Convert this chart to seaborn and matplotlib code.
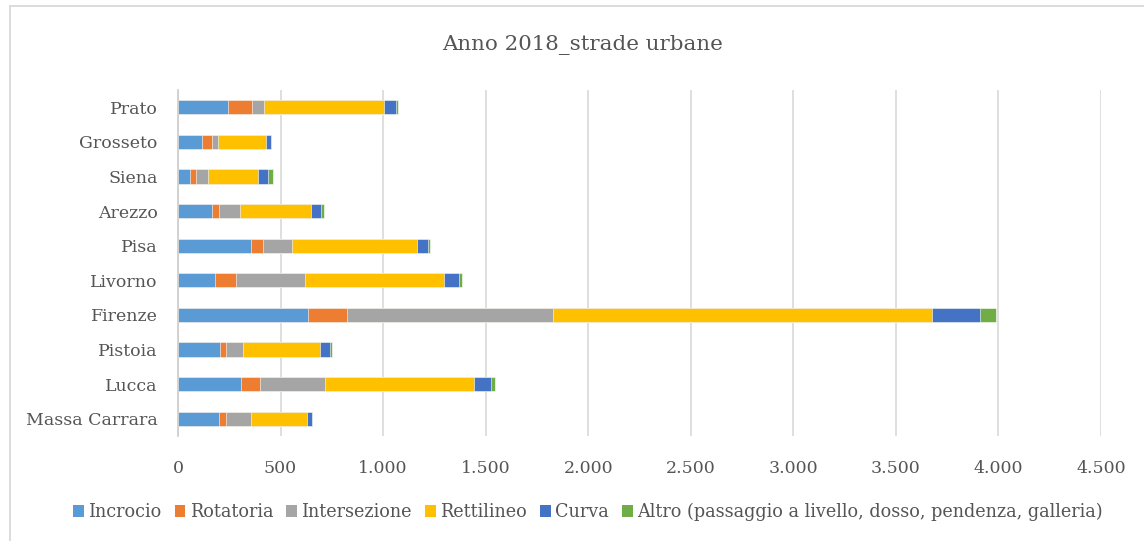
import numpy as np
import pandas as pd
import matplotlib
matplotlib.use("Agg")
import matplotlib.pyplot as plt
import matplotlib.patches as mpatches
import matplotlib.ticker as mticker
import seaborn as sns

# Provinces, top to bottom
province = ["Prato", "Grosseto", "Siena", "Arezzo", "Pisa", "Livorno",
            "Firenze", "Pistoia", "Lucca", "Massa Carrara"]

# Accidents on urban roads (2018) by road feature
incrocio     = [245, 118, 60, 167, 357, 182, 635, 205, 309, 198]
rotatoria    = [117, 49, 29, 34, 59, 101, 190, 29, 92, 38]
intersezione = [56, 27, 57, 103, 140, 335, 1003, 81, 317, 118]
rettilineo   = [588, 235, 244, 344, 611, 679, 1848, 376, 724, 276]
curva        = [55, 24, 50, 51, 53, 75, 234, 49, 86, 23]
altro        = [10, 2, 22, 11, 10, 13, 78, 12, 19, 2]

series_names = ["Incrocio", "Rotatoria", "Intersezione", "Rettilineo", "Curva",
                "Altro (passaggio a livello, dosso, pendenza, galleria)"]
series_vals = [incrocio, rotatoria, intersezione, rettilineo, curva, altro]
colors = ["#5B9BD5", "#ED7D31", "#A5A5A5", "#FFC000", "#4472C4", "#70AD47"]

xticks = [0, 500, 1000, 1500, 2000, 2500, 3000, 3500, 4000, 4500]

TEXT = "#555555"
FONT = "DejaVu Serif"

sns.set_theme(style="white")
plt.rcParams["font.family"] = [FONT]

fig = plt.figure(figsize=(11.44, 5.41), dpi=100)
ax = fig.add_axes([178 / 1144, 1 - 436 / 541, (1101 - 178) / 1144, (436 - 90) / 541])

# Chart frame
fig.patches.append(mpatches.Rectangle((10 / 1144, -0.1), 1.2, 1 - 6 / 541 + 0.1,
                                      transform=fig.transFigure, fill=False,
                                      edgecolor="#d9d9d9", linewidth=1.3, zorder=0))

df = pd.DataFrame({"provincia": province})
cum = np.cumsum(np.array(series_vals), axis=0)
# Stacked bars: draw cumulative totals from the outermost segment inwards
for i in range(len(series_names) - 1, -1, -1):
    df["v"] = cum[i]
    sns.barplot(data=df, x="v", y="provincia", order=province, color=colors[i],
                orient="h", width=0.41, saturation=1, ax=ax,
                edgecolor="white", linewidth=0.4, zorder=3)

ax.set_xlim(0, 4500)
ax.set_ylim(9.5, -0.5)
ax.set_xticks(xticks)
ax.xaxis.set_major_formatter(mticker.FuncFormatter(lambda v, p: f"{int(v):,}".replace(",", ".")))
ax.grid(axis="x", color="#d9d9d9", linewidth=1.2, zorder=0)
ax.grid(axis="y", visible=False)
for s in ["top", "right", "bottom"]:
    ax.spines[s].set_visible(False)
ax.spines["left"].set_color("#cccccc")
ax.spines["left"].set_linewidth(1.2)
ax.spines["left"].set_zorder(4)
ax.tick_params(axis="both", length=0, colors=TEXT, labelsize=12.5)
ax.tick_params(axis="x", pad=17)
ax.tick_params(axis="y", pad=14.5)
ax.set_xlabel("")
ax.set_ylabel("")
ax.set_facecolor("none")

fig.text(583 / 1144, 1 - 45 / 541, "Anno 2018_strade urbane", ha="center", va="center",
         fontsize=15.4, color=TEXT)

handles = [mpatches.Patch(facecolor=c, edgecolor="none", label=n)
           for c, n in zip(colors, series_names)]
leg = fig.legend(handles=handles, loc="center", bbox_to_anchor=(588 / 1144, 1 - 512 / 541),
                 ncol=6, frameon=False, fontsize=12.7, handlelength=0.6, handleheight=0.6,
                 handletextpad=0.25, columnspacing=0.75, labelcolor=TEXT)

fig.savefig("out.png", dpi=100)
